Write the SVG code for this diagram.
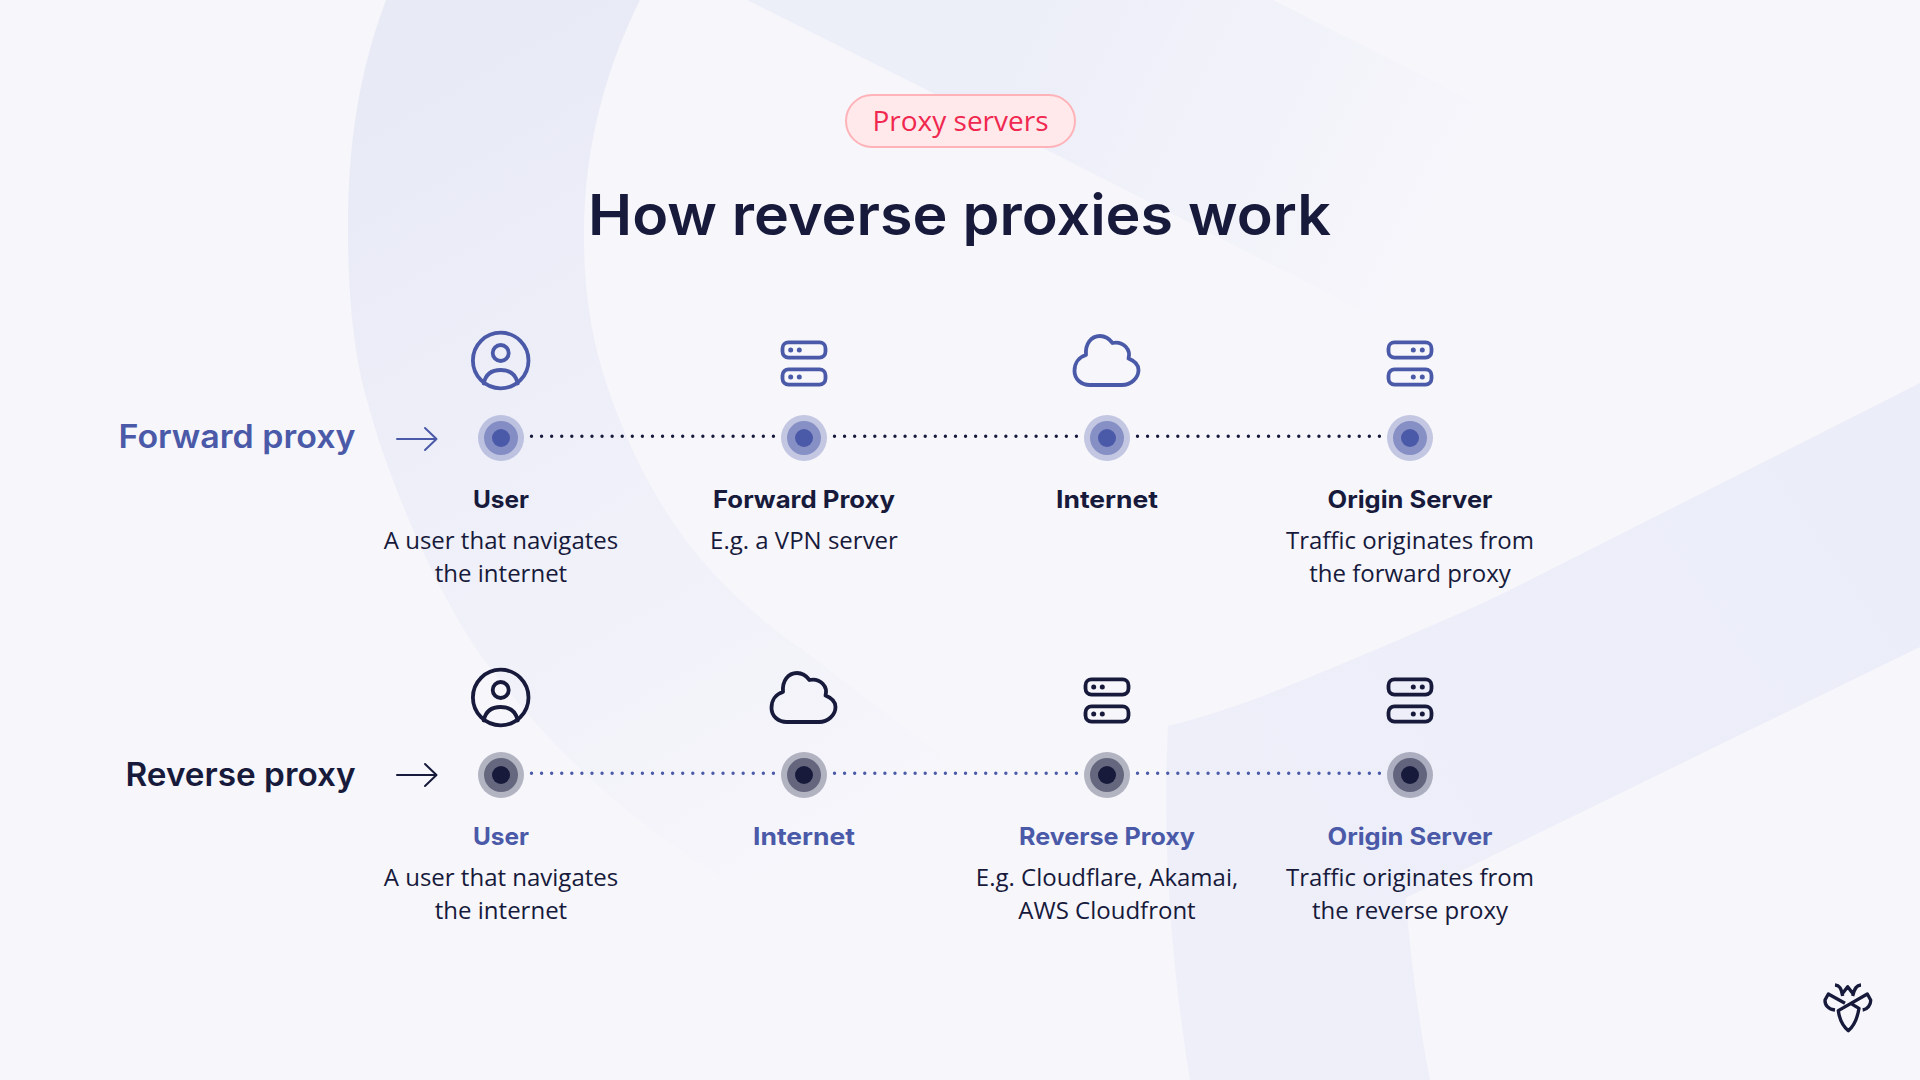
<svg xmlns="http://www.w3.org/2000/svg" width="1920" height="1080" viewBox="0 0 1920 1080">
<style>
.h{font-family:Inter,"Liberation Sans",sans-serif;font-weight:700;text-anchor:middle}
.t{font-size:24px}
.b{font-family:"Open Sans","Liberation Sans",sans-serif;font-size:24px;fill:#171a3b;text-anchor:middle}
.navy{fill:#171a3b}.blue{fill:#4b5aa8}
.ic{fill:none;stroke-width:3.8;stroke-linecap:round;stroke-linejoin:round}
.sb{stroke:#4b5aa8;color:#4b5aa8}.sn{stroke:#171a3b;color:#171a3b}
.dots{fill:none;stroke-width:3.4;stroke-linecap:round;stroke-dasharray:0 10.08}
</style>
<defs>
<linearGradient id="g1" gradientUnits="userSpaceOnUse" x1="400" y1="100" x2="830" y2="860"><stop offset="0" stop-color="#e8eaf6"/><stop offset="1" stop-color="#f6f6fb"/></linearGradient>
<linearGradient id="g2" gradientUnits="userSpaceOnUse" x1="1000" y1="20" x2="1430" y2="240"><stop offset="0" stop-color="#eceef8"/><stop offset="1" stop-color="#f6f6fb"/></linearGradient>
<linearGradient id="g3" gradientUnits="userSpaceOnUse" x1="1920" y1="500" x2="1200" y2="1000"><stop offset="0" stop-color="#ebedf8"/><stop offset="1" stop-color="#eeeff9"/></linearGradient>
<g id="user"><circle cx="0" cy="0" r="27.8"/><circle cx="0" cy="-7.5" r="8"/><path d="M-17 23 C-15 13 -8 9.5 0 9.5 C8 9.5 15 13 17 23"/></g>
<g id="srvL"><rect x="-21.5" y="-20.6" width="43" height="15.2" rx="6"/><rect x="-21.5" y="6.4" width="43" height="15.2" rx="6"/><g fill="currentColor" stroke="none"><circle cx="-13.3" cy="-13" r="2.5"/><circle cx="-4.700" cy="-13" r="2.500"/><circle cx="-13.3" cy="14" r="2.5"/><circle cx="-4.700" cy="14" r="2.500"/></g></g>
<g id="srvR"><rect x="-21.5" y="-20.6" width="43" height="15.2" rx="6"/><rect x="-21.5" y="6.4" width="43" height="15.2" rx="6"/><g fill="currentColor" stroke="none"><circle cx="3.3" cy="-13" r="2.5"/><circle cx="12.300" cy="-13" r="2.500"/><circle cx="3.3" cy="14" r="2.5"/><circle cx="12.300" cy="14" r="2.500"/></g></g>
<path id="cloud" d="M-17 25 H15 C24 25 31.5 18 31.5 10 C31.5 5 28 1 21.5 -1.5 C24 -10 17 -19 5.500 -17 C1 -23 -4 -24 -7 -24 C-16 -24 -22 -16 -21 -5 C-28 -3 -32.500 3 -32.500 11 C-32.500 19 -26 25 -17 25 Z"/>
<g id="arr"><path d="M397 0 H436 M425 -11 L436.500 0 L425 11" fill="none" stroke-width="2" stroke-linecap="round" stroke-linejoin="round"/></g>
<g id="pb"><circle r="23" fill="#4b5aa8" opacity=".3"/><circle r="17" fill="#4b5aa8" opacity=".5"/><circle r="9" fill="#4b5aa8"/></g>
<g id="pn"><circle r="23" fill="#171a3b" opacity=".3"/><circle r="17" fill="#171a3b" opacity=".5"/><circle r="9" fill="#171a3b"/></g>
</defs>
<rect width="1920" height="1080" fill="#f6f6fb"/>
<g id="background">
<path d="M747 0 H1273 L1600 165 L1420 340 L1041 147 Z" fill="url(#g2)"/>
<path d="M386 0 C352 90 348 170 348 233 C348 300 355 360 367 400 C385 470 430 580 477 650 C530 725 600 795 680 850 L760 905 L1010 810 L904 727 L803 650 C745 610 700 565 665 510 C640 470 600 390 589 310 C585 280 584 260 584 233 C584 140 610 60 640 0 Z" fill="url(#g1)"/>
<path d="M1920 383 L1500 595 C1420 632 1340 665 1261 697 C1230 708 1200 718 1168 726 C1162 850 1172 970 1190 1080 H1430 C1418 1020 1410 950 1405.600 898 L1920 647 Z" fill="url(#g3)"/>
</g>
<g id="connectors">
<path class="dots" stroke="#171a3b" d="M531.500 436.300 H775 M834.500 436.300 H1078 M1137.500 436.300 H1381"/>
<path class="dots" stroke="#4b5aa8" d="M531.500 773.300 H775 M834.500 773.300 H1078 M1137.500 773.300 H1381"/>
<use href="#arr" y="439" stroke="#4b5aa8"/>
<use href="#arr" y="775" stroke="#171a3b"/>
</g>
<g id="header">
<rect x="846" y="95" width="229" height="52" rx="26" fill="#ffe9eb" stroke="#ffb3b8" stroke-width="2"/>
<text x="960.500" y="131" font-family="'Open Sans',sans-serif" font-size="27.500" font-weight="500" fill="#f0284f" text-anchor="middle" textLength="176" lengthAdjust="spacingAndGlyphs">Proxy servers</text>
<text class="h navy" x="959.500" y="235" font-size="57" textLength="743" lengthAdjust="spacingAndGlyphs" style="font-weight:600">How reverse proxies work</text>
</g>
<g id="row-labels">
<text class="h blue" x="237" y="448" font-size="32" textLength="237" lengthAdjust="spacingAndGlyphs" style="font-weight:600">Forward proxy</text>
<text class="h navy" x="240.500" y="785.500" font-size="32" textLength="230" lengthAdjust="spacingAndGlyphs" style="font-weight:600">Reverse proxy</text>
</g>
<g id="f-user"><use href="#user" class="ic sb" x="500.700" y="360.500"/><use href="#pb" x="501" y="438"/><text class="h t navy" x="501" y="508" textLength="56" lengthAdjust="spacingAndGlyphs">User</text><text class="b" x="501" y="549">A user that navigates</text><text class="b" x="501" y="582">the internet</text></g>
<g id="f-proxy"><use href="#srvL" class="ic sb" x="804" y="363"/><use href="#pb" x="804" y="438"/><text class="h t navy" x="804" y="508" textLength="182" lengthAdjust="spacingAndGlyphs">Forward Proxy</text><text class="b" x="804" y="549">E.g. a VPN server</text></g>
<g id="f-internet"><use href="#cloud" class="ic sb" x="1107" y="360"/><use href="#pb" x="1107" y="438"/><text class="h t navy" x="1107" y="508" textLength="102" lengthAdjust="spacingAndGlyphs">Internet</text></g>
<g id="f-origin"><use href="#srvR" class="ic sb" x="1410" y="363"/><use href="#pb" x="1410" y="438"/><text class="h t navy" x="1410" y="508" textLength="165" lengthAdjust="spacingAndGlyphs">Origin Server</text><text class="b" x="1410" y="549">Traffic originates from</text><text class="b" x="1410" y="582">the forward proxy</text></g>
<g id="r-user"><use href="#user" class="ic sn" x="500.700" y="697.500"/><use href="#pn" x="501" y="775"/><text class="h t blue" x="501" y="845" textLength="56" lengthAdjust="spacingAndGlyphs">User</text><text class="b" x="501" y="886">A user that navigates</text><text class="b" x="501" y="919">the internet</text></g>
<g id="r-internet"><use href="#cloud" class="ic sn" x="804" y="697"/><use href="#pn" x="804" y="775"/><text class="h t blue" x="804" y="845" textLength="102" lengthAdjust="spacingAndGlyphs">Internet</text></g>
<g id="r-proxy"><use href="#srvL" class="ic sn" x="1107" y="700"/><use href="#pn" x="1107" y="775"/><text class="h t blue" x="1107" y="845" textLength="176" lengthAdjust="spacingAndGlyphs">Reverse Proxy</text><text class="b" x="1107" y="886">E.g. Cloudflare, Akamai,</text><text class="b" x="1107" y="919">AWS Cloudfront</text></g>
<g id="r-origin"><use href="#srvR" class="ic sn" x="1410" y="700"/><use href="#pn" x="1410" y="775"/><text class="h t blue" x="1410" y="845" textLength="165" lengthAdjust="spacingAndGlyphs">Origin Server</text><text class="b" x="1410" y="886">Traffic originates from</text><text class="b" x="1410" y="919">the reverse proxy</text></g>
<g id="logo" transform="translate(1780 960) scale(.3333)" fill="none" stroke="#171a3b" stroke-width="10" stroke-linejoin="round" stroke-linecap="butt">
<path d="M165 75 C178 76 184 84 188 108 M243 75 C230 76 224 84 218 108 M188 100 L203 80 L218 100"/>
<path d="M165 150 C145 148 134 135 135 120 L145 102 L195 130"/>
<path d="M248 150 C262 148 273 135 272 120 L262 102 L175 152 C178 175 188 198 205 212 C222 198 233 170 237 145 L212 130"/>
</g>
</svg>
